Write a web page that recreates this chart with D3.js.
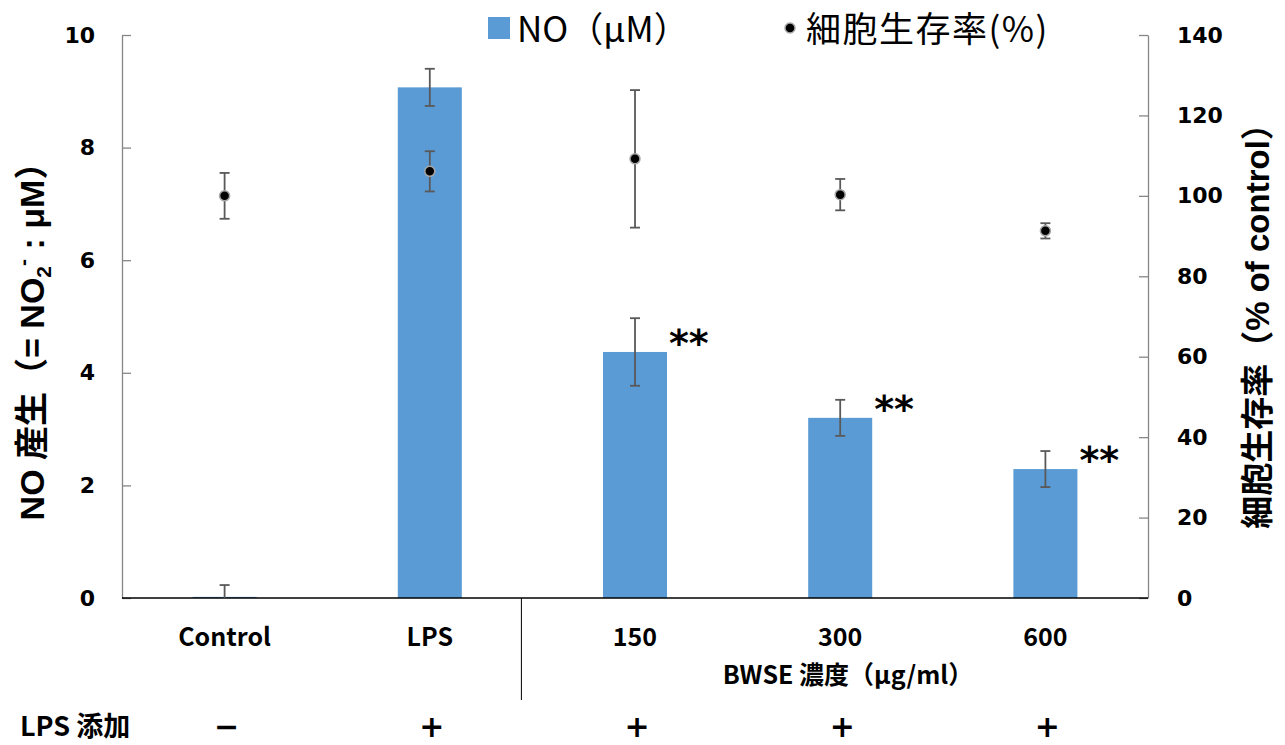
<!DOCTYPE html>
<html>
<head>
<meta charset="utf-8">
<script src="https://cdn.jsdelivr.net/npm/d3@7"></script>
<style>
  html, body { margin: 0; padding: 0; background: #ffffff; }
  svg { display: block; }
  .tick text { font-family: "DejaVu Sans", Verdana, sans-serif; font-weight: bold; font-size: 22px; fill: #000; }
</style>
</head>
<body>
<script>
// Groups along the x axis
const categories = ["Control", "LPS", "150", "300", "600"];
// NO production (µM) with error bars
const noValues = [0.02, 9.07, 4.37, 3.20, 2.29];
const noErrors = [0.21, 0.33, 0.60, 0.32, 0.32];
// Cell viability (% of control) with error bars
const viability = [100.0, 106.1, 109.2, 100.3, 91.3];
const viabilityErrors = [5.7, 5.0, 17.1, 3.9, 1.9];
// Significance marks and LPS treatment row
const significance = ["", "", "**", "**", "**"];
const lpsSigns = ["\u2212", "+", "+", "+", "+"];
// Axis ticks
const leftTicks = [0, 2, 4, 6, 8, 10];
const rightTicks = [0, 20, 40, 60, 80, 100, 120, 140];

const W = 1285, H = 745;
const plot = { left: 122, right: 1148, top: 35, bottom: 598 };
const barColor = "#5B9BD5";
const errColor = "#595959";
const cjk = "'Noto Sans CJK JP', 'Noto Sans', sans-serif";
const latinBold = "'Liberation Sans', Arial, 'Noto Sans CJK JP', sans-serif";

const svg = d3.select("body").append("svg").attr("width", W).attr("height", H);

const x = d3.scaleBand().domain(categories).range([plot.left, plot.right]).padding(0);
const yL = d3.scaleLinear().domain([0, 10]).range([plot.bottom, plot.top]);
const yR = d3.scaleLinear().domain([0, 140]).range([plot.bottom, plot.top]);
const barW = x.bandwidth() * 0.312;
const cx = c => x(c) + x.bandwidth() / 2;

// Left axis (ticks point inward)
const gL = svg.append("g").attr("transform", `translate(${plot.left},0)`)
  .call(d3.axisLeft(yL).tickValues(leftTicks).tickSizeInner(-9).tickSizeOuter(0).tickPadding(27));
gL.selectAll("path, line").attr("stroke", "#868686").attr("stroke-width", 1.3);

// Right axis
const gR = svg.append("g").attr("transform", `translate(${plot.right},0)`)
  .call(d3.axisRight(yR).tickValues(rightTicks).tickSizeInner(-9).tickSizeOuter(0).tickPadding(29));
gR.selectAll("path, line").attr("stroke", "#868686").attr("stroke-width", 1.3);

// Bars
svg.append("g").selectAll("rect").data(categories).join("rect")
  .attr("x", (c) => cx(c) - barW / 2)
  .attr("width", barW)
  .attr("y", (c, i) => yL(noValues[i]))
  .attr("height", (c, i) => Math.max(1, yL(0) - yL(noValues[i])))
  .attr("fill", barColor);

// Baseline
svg.append("line").attr("x1", plot.left).attr("x2", plot.right)
  .attr("y1", plot.bottom).attr("y2", plot.bottom)
  .attr("stroke", "#000").attr("stroke-width", 1.3);

// Error bar helper
function errorBars(vals, errs, scale) {
  const g = svg.append("g").attr("stroke", errColor).attr("stroke-width", 1.8);
  categories.forEach((c, i) => {
    const xc = cx(c);
    const y1 = scale(vals[i] + errs[i]);
    const y2 = scale(Math.max(0, vals[i] - errs[i]));
    g.append("line").attr("x1", xc).attr("x2", xc).attr("y1", y1).attr("y2", y2);
    g.append("line").attr("x1", xc - 5).attr("x2", xc + 5).attr("y1", y1).attr("y2", y1);
    if (vals[i] - errs[i] > 0)
      g.append("line").attr("x1", xc - 5).attr("x2", xc + 5).attr("y1", y2).attr("y2", y2);
  });
}
errorBars(noValues, noErrors, yL);
errorBars(viability, viabilityErrors, yR);

// Viability points
svg.append("g").selectAll("circle").data(categories).join("circle")
  .attr("cx", c => cx(c))
  .attr("cy", (c, i) => yR(viability[i]))
  .attr("r", 5)
  .attr("fill", "#000")
  .attr("stroke", "#a6a6a6")
  .attr("stroke-width", 1.5);

// Significance asterisks
svg.append("g").selectAll("text").data(categories).join("text")
  .attr("x", c => cx(c) + 34)
  .attr("y", (c, i) => yL(noValues[i]) + 4)
  .attr("font-family", "'DejaVu Sans', sans-serif")
  .attr("font-weight", "bold")
  .attr("font-size", 38)
  .attr("fill", "#000")
  .text((c, i) => significance[i]);

// Category labels
svg.append("g").selectAll("text").data(categories).join("text")
  .attr("x", c => cx(c))
  .attr("y", 646)
  .attr("text-anchor", "middle")
  .attr("font-family", cjk)
  .attr("font-weight", "bold")
  .attr("font-size", 25)
  .attr("fill", "#000")
  .text(c => c);

// Divider between controls and extract concentrations
const divX = x("150") - 11;
svg.append("line")
  .attr("x1", divX).attr("x2", divX)
  .attr("y1", plot.bottom).attr("y2", 700)
  .attr("stroke", "#000").attr("stroke-width", 1);

svg.append("text")
  .attr("x", 848).attr("y", 684)
  .attr("text-anchor", "middle")
  .attr("font-family", cjk).attr("font-weight", "bold").attr("font-size", 25)
  .attr("fill", "#000")
  .text("BWSE 濃度（μg/ml）");

// LPS treatment row
svg.append("text")
  .attr("x", 20).attr("y", 736)
  .attr("font-family", cjk).attr("font-weight", "bold").attr("font-size", 27)
  .attr("fill", "#000")
  .text("LPS 添加");
svg.append("g").selectAll("text").data(categories).join("text")
  .attr("x", c => cx(c) + 2)
  .attr("y", 737)
  .attr("text-anchor", "middle")
  .attr("font-family", "'DejaVu Sans', sans-serif").attr("font-weight", "bold").attr("font-size", 30)
  .attr("fill", "#000")
  .text((c, i) => lpsSigns[i]);

// Left axis title
const tL = svg.append("text")
  .attr("transform", `translate(44,333) rotate(-90)`)
  .attr("text-anchor", "middle")
  .attr("font-family", latinBold)
  .attr("font-weight", "bold").attr("font-size", 34).attr("fill", "#000");
tL.append("tspan").text("NO ");
tL.append("tspan").attr("font-family", cjk).text("産生（");
tL.append("tspan").text("= NO");
tL.append("tspan").attr("font-size", 21).attr("dy", 7).text("2");
tL.append("tspan").attr("font-size", 21).attr("dy", -21).text("-");
tL.append("tspan").attr("dy", 14).text(" : μM");
tL.append("tspan").attr("font-family", cjk).text("）");

// Right axis title
const tR = svg.append("text")
  .attr("transform", `translate(1269,318) rotate(-90)`)
  .attr("text-anchor", "middle")
  .attr("font-family", cjk)
  .attr("font-weight", "bold").attr("font-size", 33).attr("fill", "#000");
tR.append("tspan").text("細胞生存率（");
tR.append("tspan").attr("font-family", latinBold).text("% of control");
tR.append("tspan").text("）");

// Legend
const lg = svg.append("g");
lg.append("rect").attr("x", 488).attr("y", 17).attr("width", 22).attr("height", 22).attr("fill", barColor);
lg.append("text").attr("x", 517).attr("y", 42)
  .attr("font-family", cjk).attr("font-size", 35).attr("fill", "#000")
  .text("NO（μM）");
lg.append("circle").attr("cx", 790).attr("cy", 28).attr("r", 5)
  .attr("fill", "#000").attr("stroke", "#a6a6a6").attr("stroke-width", 1.5);
lg.append("text").attr("x", 806).attr("y", 42)
  .attr("font-family", cjk).attr("font-size", 35).attr("letter-spacing", 1.5).attr("fill", "#000")
  .text("細胞生存率(%)");
</script>
</body>
</html>
